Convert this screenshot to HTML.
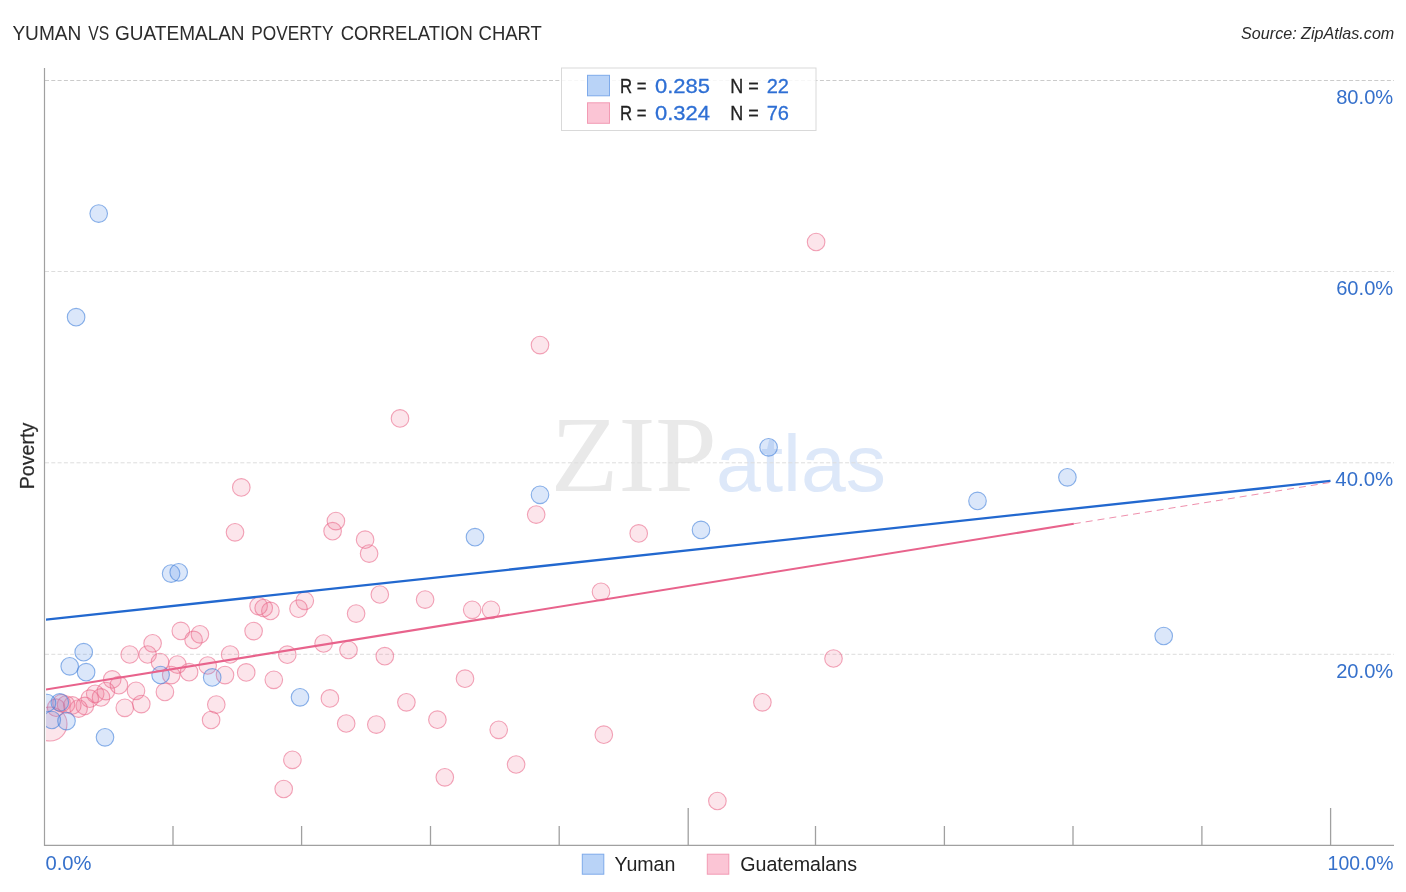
<!DOCTYPE html>
<html lang="en"><head><meta charset="utf-8"><title>Yuman vs Guatemalan Poverty Correlation Chart</title>
<style>html,body{margin:0;padding:0;background:#fff}body{width:1406px;height:892px;overflow:hidden}svg{display:block}text{font-family:'Liberation Sans', sans-serif}</style></head><body>
<svg width="1406" height="892" viewBox="0 0 1406 892">
<rect width="1406" height="892" fill="#fff"/>
<defs><clipPath id="plot"><rect x="46" y="60" width="1350" height="786"/></clipPath></defs>
<g opacity="1">
<text x="550.8" y="490.5" font-size="108" textLength="166" lengthAdjust="spacingAndGlyphs" style="font-family:'Liberation Serif', serif" fill="#e9e9e9">ZIP</text>
<text x="716" y="491" font-size="80" textLength="170" lengthAdjust="spacingAndGlyphs" fill="#dde8f9">atlas</text>
</g>
<line x1="45" y1="80.5" x2="1394" y2="80.5" stroke="#cbcbcb" stroke-width="1" stroke-dasharray="4,2.3"/>
<line x1="45" y1="271.5" x2="1394" y2="271.5" stroke="#dddddd" stroke-width="1" stroke-dasharray="4,2.3"/>
<line x1="45" y1="462.8" x2="1394" y2="462.8" stroke="#dddddd" stroke-width="1" stroke-dasharray="4,2.3"/>
<line x1="45" y1="654.3" x2="1394" y2="654.3" stroke="#dddddd" stroke-width="1" stroke-dasharray="4,2.3"/>
<line x1="44.5" y1="68" x2="44.5" y2="846" stroke="#a0a0a0" stroke-width="1.2"/>
<line x1="44" y1="845.4" x2="1394" y2="845.4" stroke="#a0a0a0" stroke-width="1.2"/>
<line x1="173.0" y1="826" x2="173.0" y2="845" stroke="#a0a0a0" stroke-width="1.3"/>
<line x1="301.6" y1="826" x2="301.6" y2="845" stroke="#a0a0a0" stroke-width="1.3"/>
<line x1="430.5" y1="826" x2="430.5" y2="845" stroke="#a0a0a0" stroke-width="1.3"/>
<line x1="559.2" y1="826" x2="559.2" y2="845" stroke="#a0a0a0" stroke-width="1.3"/>
<line x1="688.2" y1="808" x2="688.2" y2="845" stroke="#a0a0a0" stroke-width="1.3"/>
<line x1="815.5" y1="826" x2="815.5" y2="845" stroke="#a0a0a0" stroke-width="1.3"/>
<line x1="944.4" y1="826" x2="944.4" y2="845" stroke="#a0a0a0" stroke-width="1.3"/>
<line x1="1073.0" y1="826" x2="1073.0" y2="845" stroke="#a0a0a0" stroke-width="1.3"/>
<line x1="1201.9" y1="826" x2="1201.9" y2="845" stroke="#a0a0a0" stroke-width="1.3"/>
<line x1="1330.6" y1="808" x2="1330.6" y2="845" stroke="#a0a0a0" stroke-width="1.3"/>
<g clip-path="url(#plot)">
<g fill="rgba(240,110,145,0.18)" stroke="rgba(232,100,135,0.58)" stroke-width="1.1">
<circle cx="50" cy="724" r="17"/>
<circle cx="112.2" cy="679.4" r="8.8"/>
<circle cx="118.9" cy="685.2" r="8.8"/>
<circle cx="136" cy="690.8" r="8.8"/>
<circle cx="105.9" cy="691.1" r="8.8"/>
<circle cx="95.2" cy="693.8" r="8.8"/>
<circle cx="101" cy="697.4" r="8.8"/>
<circle cx="89.8" cy="698.7" r="8.8"/>
<circle cx="141.3" cy="704.1" r="8.8"/>
<circle cx="124.8" cy="707.8" r="8.8"/>
<circle cx="84.8" cy="705.9" r="8.8"/>
<circle cx="78.6" cy="708.6" r="8.8"/>
<circle cx="72.3" cy="705.4" r="8.8"/>
<circle cx="66" cy="704.5" r="8.8"/>
<circle cx="61.5" cy="703.2" r="8.8"/>
<circle cx="56.1" cy="707.7" r="8.8"/>
<circle cx="180.8" cy="630.9" r="8.8"/>
<circle cx="199.9" cy="634.3" r="8.8"/>
<circle cx="193.6" cy="639.9" r="8.8"/>
<circle cx="152.6" cy="643.3" r="8.8"/>
<circle cx="129.7" cy="654.5" r="8.8"/>
<circle cx="147.6" cy="654.5" r="8.8"/>
<circle cx="230.1" cy="654.5" r="8.8"/>
<circle cx="160" cy="662.1" r="8.8"/>
<circle cx="177.4" cy="664.6" r="8.8"/>
<circle cx="207.7" cy="665.5" r="8.8"/>
<circle cx="189.1" cy="672.2" r="8.8"/>
<circle cx="171.2" cy="675.1" r="8.8"/>
<circle cx="225" cy="675.1" r="8.8"/>
<circle cx="164.9" cy="691.9" r="8.8"/>
<circle cx="216.3" cy="704.6" r="8.8"/>
<circle cx="211.1" cy="720" r="8.8"/>
<circle cx="400" cy="418.4" r="8.8"/>
<circle cx="241.3" cy="487.4" r="8.8"/>
<circle cx="235" cy="532.3" r="8.8"/>
<circle cx="335.9" cy="521.1" r="8.8"/>
<circle cx="332.6" cy="531.2" r="8.8"/>
<circle cx="365.1" cy="539.7" r="8.8"/>
<circle cx="369.1" cy="553.6" r="8.8"/>
<circle cx="379.8" cy="594.5" r="8.8"/>
<circle cx="304.8" cy="600.8" r="8.8"/>
<circle cx="258.6" cy="606.2" r="8.8"/>
<circle cx="263.7" cy="608" r="8.8"/>
<circle cx="270.4" cy="610.9" r="8.8"/>
<circle cx="298.5" cy="608.7" r="8.8"/>
<circle cx="356.1" cy="613.6" r="8.8"/>
<circle cx="253.6" cy="631.1" r="8.8"/>
<circle cx="323.6" cy="643.5" r="8.8"/>
<circle cx="348.5" cy="650" r="8.8"/>
<circle cx="287.3" cy="654.7" r="8.8"/>
<circle cx="384.8" cy="656.2" r="8.8"/>
<circle cx="246.2" cy="672.4" r="8.8"/>
<circle cx="273.8" cy="679.8" r="8.8"/>
<circle cx="329.9" cy="698.4" r="8.8"/>
<circle cx="406.4" cy="702.3" r="8.8"/>
<circle cx="346.2" cy="723.5" r="8.8"/>
<circle cx="376.3" cy="724.6" r="8.8"/>
<circle cx="292.4" cy="759.8" r="8.8"/>
<circle cx="283.7" cy="789" r="8.8"/>
<circle cx="425.1" cy="599.6" r="8.8"/>
<circle cx="472.2" cy="609.8" r="8.8"/>
<circle cx="491" cy="609.8" r="8.8"/>
<circle cx="601" cy="591.8" r="8.8"/>
<circle cx="465" cy="678.7" r="8.8"/>
<circle cx="437.4" cy="719.7" r="8.8"/>
<circle cx="498.7" cy="729.8" r="8.8"/>
<circle cx="516.1" cy="764.5" r="8.8"/>
<circle cx="444.8" cy="777.3" r="8.8"/>
<circle cx="603.8" cy="734.7" r="8.8"/>
<circle cx="540" cy="345.1" r="8.8"/>
<circle cx="536.2" cy="514.6" r="8.8"/>
<circle cx="638.7" cy="533.4" r="8.8"/>
<circle cx="833.5" cy="658.5" r="8.8"/>
<circle cx="762.4" cy="702.3" r="8.8"/>
<circle cx="717.4" cy="801" r="8.8"/>
<circle cx="816.1" cy="242" r="8.8"/>
</g>
<g fill="rgba(90,145,230,0.22)" stroke="rgba(70,130,220,0.62)" stroke-width="1.1">
<circle cx="98.7" cy="213.6" r="8.8"/>
<circle cx="76.1" cy="317.2" r="8.8"/>
<circle cx="83.7" cy="652.2" r="8.8"/>
<circle cx="69.7" cy="666.3" r="8.8"/>
<circle cx="86.1" cy="672.2" r="8.8"/>
<circle cx="160.6" cy="675" r="8.8"/>
<circle cx="212.2" cy="677.4" r="8.8"/>
<circle cx="59.8" cy="702.4" r="8.8"/>
<circle cx="47" cy="703" r="8.8"/>
<circle cx="51.8" cy="720" r="8.8"/>
<circle cx="66.5" cy="721.1" r="8.8"/>
<circle cx="105" cy="737.3" r="8.8"/>
<circle cx="300" cy="697.3" r="8.8"/>
<circle cx="475" cy="537.2" r="8.8"/>
<circle cx="540" cy="494.8" r="8.8"/>
<circle cx="701" cy="529.9" r="8.8"/>
<circle cx="768.6" cy="447.3" r="8.8"/>
<circle cx="977.5" cy="500.9" r="8.8"/>
<circle cx="1067.4" cy="477.3" r="8.8"/>
<circle cx="1163.7" cy="636" r="8.8"/>
<circle cx="171.1" cy="573.6" r="8.8"/>
<circle cx="178.7" cy="572.3" r="8.8"/>
</g>
<line x1="45" y1="619.8" x2="1330.5" y2="480.9" stroke="#2268cf" stroke-width="2.3"/>
<line x1="45" y1="689.6" x2="1073.8" y2="523.8" stroke="#e8638c" stroke-width="2.1"/>
<line x1="1073.8" y1="523.8" x2="1330.5" y2="482.4" stroke="#e8638c" stroke-width="0.9" stroke-opacity="0.8" stroke-dasharray="7,5"/>
</g>
<text x="12.4" y="40" font-size="19.3" textLength="68.9" lengthAdjust="spacingAndGlyphs" fill="#2c2c2c">YUMAN</text>
<text x="88.2" y="40" font-size="19.3" textLength="20.9" lengthAdjust="spacingAndGlyphs" fill="#2c2c2c">VS</text>
<text x="115.1" y="40" font-size="19.3" textLength="129.5" lengthAdjust="spacingAndGlyphs" fill="#2c2c2c">GUATEMALAN</text>
<text x="251.3" y="40" font-size="19.3" textLength="82.1" lengthAdjust="spacingAndGlyphs" fill="#2c2c2c">POVERTY</text>
<text x="340.7" y="40" font-size="19.3" textLength="132.1" lengthAdjust="spacingAndGlyphs" fill="#2c2c2c">CORRELATION</text>
<text x="478.6" y="40" font-size="19.3" textLength="63.3" lengthAdjust="spacingAndGlyphs" fill="#2c2c2c">CHART</text>
<text x="1241.1" y="39.3" font-size="15.7" textLength="153.2" lengthAdjust="spacingAndGlyphs" fill="#2b2b2b" font-style="italic">Source: ZipAtlas.com</text>
<text x="1336.2" y="103.6" font-size="20" textLength="57.0" lengthAdjust="spacingAndGlyphs" fill="#3570cb">80.0%</text>
<text x="1336.2" y="294.8" font-size="20" textLength="57.0" lengthAdjust="spacingAndGlyphs" fill="#3570cb">60.0%</text>
<text x="1335.3" y="486.3" font-size="20" textLength="57.9" lengthAdjust="spacingAndGlyphs" fill="#3570cb">40.0%</text>
<text x="1336.2" y="677.7" font-size="20" textLength="57.0" lengthAdjust="spacingAndGlyphs" fill="#3570cb">20.0%</text>
<text x="45.5" y="870" font-size="20.2" textLength="46" lengthAdjust="spacingAndGlyphs" fill="#3570cb">0.0%</text>
<text x="1327.6" y="870" font-size="20.2" textLength="65.8" lengthAdjust="spacingAndGlyphs" fill="#3570cb">100.0%</text>
<text transform="translate(33.9,489.2) rotate(-90)" font-size="19.7" textLength="66.4" lengthAdjust="spacingAndGlyphs" fill="#2a2a2a" stroke="#2a2a2a" stroke-width="0.2">Poverty</text>
<rect x="561.5" y="68" width="254.5" height="62.5" fill="#fff" fill-opacity="0.85" stroke="#d9d9d9" stroke-width="1"/>
<rect x="587.5" y="75.3" width="22" height="20.5" fill="#b9d3f7" stroke="#7eaaea" stroke-width="1"/>
<rect x="587.5" y="102.8" width="22" height="20.5" fill="#fbc5d5" stroke="#f29bb4" stroke-width="1"/>
<text x="620.1" y="92.9" font-size="20.6" textLength="26.5" lengthAdjust="spacingAndGlyphs" fill="#222" stroke="#222" stroke-width="0.3">R =</text>
<text x="655" y="92.9" font-size="20.6" textLength="55" lengthAdjust="spacingAndGlyphs" fill="#2e6fd4" stroke="#2e6fd4" stroke-width="0.3">0.285</text>
<text x="730.2" y="92.9" font-size="20.6" textLength="28.5" lengthAdjust="spacingAndGlyphs" fill="#222" stroke="#222" stroke-width="0.3">N =</text>
<text x="766.7" y="92.9" font-size="20.6" textLength="22.3" lengthAdjust="spacingAndGlyphs" fill="#2e6fd4" stroke="#2e6fd4" stroke-width="0.3">22</text>
<text x="620.1" y="120.2" font-size="20.6" textLength="26.5" lengthAdjust="spacingAndGlyphs" fill="#222" stroke="#222" stroke-width="0.3">R =</text>
<text x="655" y="120.2" font-size="20.6" textLength="55" lengthAdjust="spacingAndGlyphs" fill="#2e6fd4" stroke="#2e6fd4" stroke-width="0.3">0.324</text>
<text x="730.2" y="120.2" font-size="20.6" textLength="28.5" lengthAdjust="spacingAndGlyphs" fill="#222" stroke="#222" stroke-width="0.3">N =</text>
<text x="766.7" y="120.2" font-size="20.6" textLength="22.3" lengthAdjust="spacingAndGlyphs" fill="#2e6fd4" stroke="#2e6fd4" stroke-width="0.3">76</text>
<rect x="582.3" y="854.2" width="21.5" height="20" fill="#b9d3f7" stroke="#7eaaea" stroke-width="1"/>
<rect x="707.3" y="854.2" width="21.5" height="20" fill="#fbc5d5" stroke="#f29bb4" stroke-width="1"/>
<text x="614.4" y="870.6" font-size="19.3" textLength="61" lengthAdjust="spacingAndGlyphs" fill="#222">Yuman</text>
<text x="740.2" y="870.6" font-size="19.3" textLength="116.8" lengthAdjust="spacingAndGlyphs" fill="#222">Guatemalans</text>
</svg></body></html>
